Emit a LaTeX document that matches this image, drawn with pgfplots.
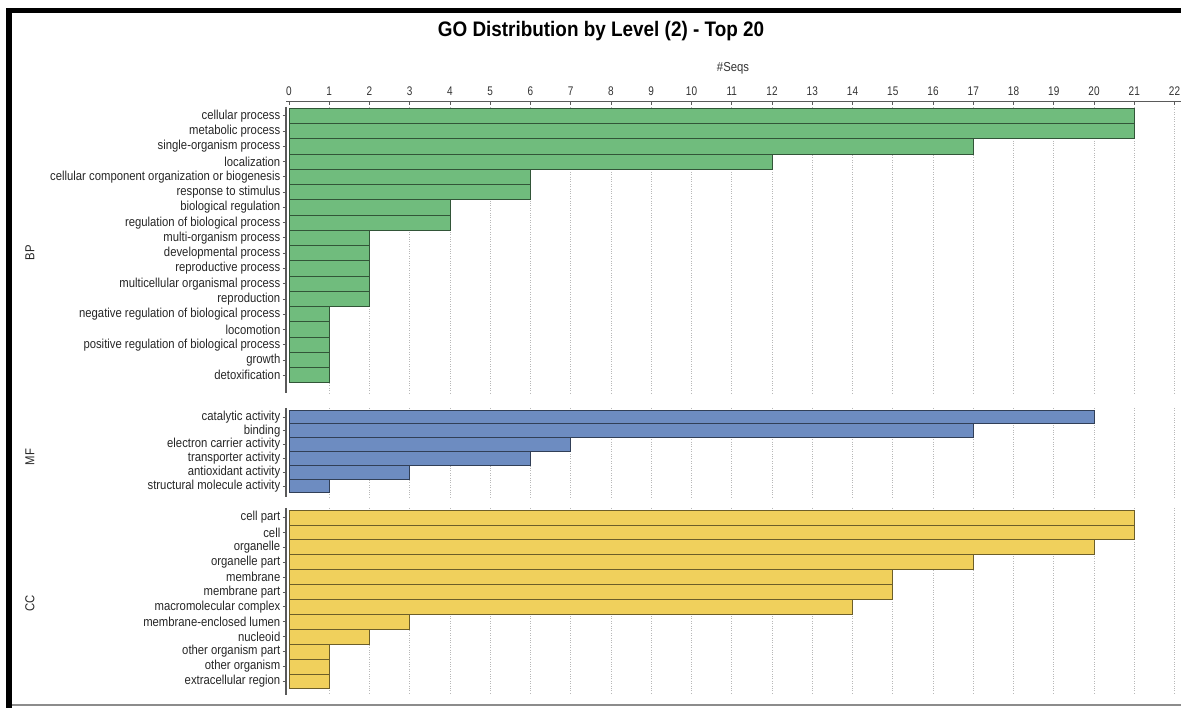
\documentclass[border=0pt]{standalone}
\usepackage{fontspec}
\setmainfont{Liberation Sans}[FakeStretch=0.87]
\newfontfamily\titlefont{Liberation Sans}[FakeStretch=0.9]
\newfontfamily\numfont{Liberation Sans}[FakeStretch=0.8]
\usepackage{pgfplots}
\usepackage{pgfplotstable}
\pgfplotsset{compat=1.18}

\definecolor{bpgreen}{RGB}{112,188,125}
\definecolor{mfblue}{RGB}{109,140,193}
\definecolor{ccyellow}{RGB}{240,208,92}
\definecolor{axisgray}{RGB}{90,90,90}

% Biological process
\pgfplotstableread[col sep=comma]{
idx,value,label
0,21,cellular process
1,21,metabolic process
2,17,single-organism process
3,12,localization
4,6,cellular component organization or biogenesis
5,6,response to stimulus
6,4,biological regulation
7,4,regulation of biological process
8,2,multi-organism process
9,2,developmental process
10,2,reproductive process
11,2,multicellular organismal process
12,2,reproduction
13,1,negative regulation of biological process
14,1,locomotion
15,1,positive regulation of biological process
16,1,growth
17,1,detoxification
}\bptable

% Molecular function
\pgfplotstableread[col sep=comma]{
idx,value,label
0,20,catalytic activity
1,17,binding
2,7,electron carrier activity
3,6,transporter activity
4,3,antioxidant activity
5,1,structural molecule activity
}\mftable

% Cellular component
\pgfplotstableread[col sep=comma]{
idx,value,label
0,21,cell part
1,21,cell
2,20,organelle
3,17,organelle part
4,15,membrane
5,15,membrane part
6,14,macromolecular complex
7,3,membrane-enclosed lumen
8,2,nucleoid
9,1,other organism part
10,1,other organism
11,1,extracellular region
}\cctable

\pgfplotsset{
  gopanel/.style={
    scale only axis,
    anchor=north west,
    x=40.25pt,
    xmin=-0.075, xmax=22.3,
    y dir=reverse,
    axis lines*=left,
    x axis line style={draw=none},
    xtick={1,...,22},
    xticklabels={},
    xtick style={draw=none},
    xmajorgrids,
    grid style={dotted, line width=0.9pt, black!28},
    y axis line style={draw=axisgray, line width=1.3pt},
    ytick style={draw=axisgray, line width=0.9pt},
    tick align=outside,
    major tick length=3.5pt,
    yticklabel style={font=\fontsize{13}{13}\selectfont, text=black!85, inner sep=2pt},
  },
  gobar/.style={xbar, bar width=1, line width=0.9pt},
}

\begin{document}
\begin{tikzpicture}[x=1pt,y=1pt]

% scale on top
\begin{axis}[
  scale only axis,
  anchor=north west,
  at={(286pt,605.3pt)},
  x=40.25pt, height=1pt,
  xmin=-0.075, xmax=22.3, ymin=0, ymax=1,
  axis x line*=top, axis y line=none,
  x axis line style={draw=axisgray, line width=1.1pt},
  xtick={0,...,22},
  xtick style={draw=axisgray, line width=0.8pt},
  tick align=inside,
  major tick length=3pt,
  /pgf/number format/assume math mode=true,
  xticklabel style={font=\numfont\fontsize{12.5}{12.5}\selectfont, text=black!80, yshift=3pt},
]
\end{axis}

% BP
\begin{axis}[gopanel,
  at={(286pt,600pt)},
  y=15.26pt, ymin=-0.58, ymax=18.16,
  ytick={0,...,17},
  yticklabels from table={\bptable}{label},
]
\addplot[gobar, fill=bpgreen, draw=black!55!bpgreen] table[x=value, y=idx]{\bptable};
\end{axis}

% MF
\begin{axis}[gopanel,
  at={(286pt,299pt)},
  y=13.8pt, ymin=-0.65, ymax=5.8,
  ytick={0,...,5},
  yticklabels from table={\mftable}{label},
]
\addplot[gobar, fill=mfblue, draw=black!55!mfblue] table[x=value, y=idx]{\mftable};
\end{axis}

% CC
\begin{axis}[gopanel,
  at={(286pt,199pt)},
  y=14.9pt, ymin=-0.64, ymax=11.9,
  ytick={0,...,11},
  yticklabels from table={\cctable}{label},
]
\addplot[gobar, fill=ccyellow, draw=black!55!ccyellow] table[x=value, y=idx]{\cctable};
\end{axis}

% titles and group names
\node[font=\titlefont\bfseries\fontsize{21}{21}\selectfont] at (601pt,676pt) {GO Distribution by Level (2) - Top 20};
\node[font=\fontsize{13}{13}\selectfont, text=black!80] at (733pt,639pt) {\#Seqs};
\node[rotate=90, font=\fontsize{13}{13}\selectfont, text=black!85] at (30pt,454pt) {BP};
\node[rotate=90, font=\fontsize{13}{13}\selectfont, text=black!85] at (30pt,250pt) {MF};
\node[rotate=90, font=\fontsize{13}{13}\selectfont, text=black!85] at (30pt,104pt) {CC};

% frame
\draw[line width=1.5pt, black!45] (9pt,2pt) -- (1195pt,2pt);
\draw[line width=5.5pt, black] (9pt,-5pt) -- (9pt,696.5pt) -- (1195pt,696.5pt);

\pgfresetboundingbox
\path[use as bounding box] (0,0) rectangle (1181pt,707pt);
\end{tikzpicture}
\end{document}
